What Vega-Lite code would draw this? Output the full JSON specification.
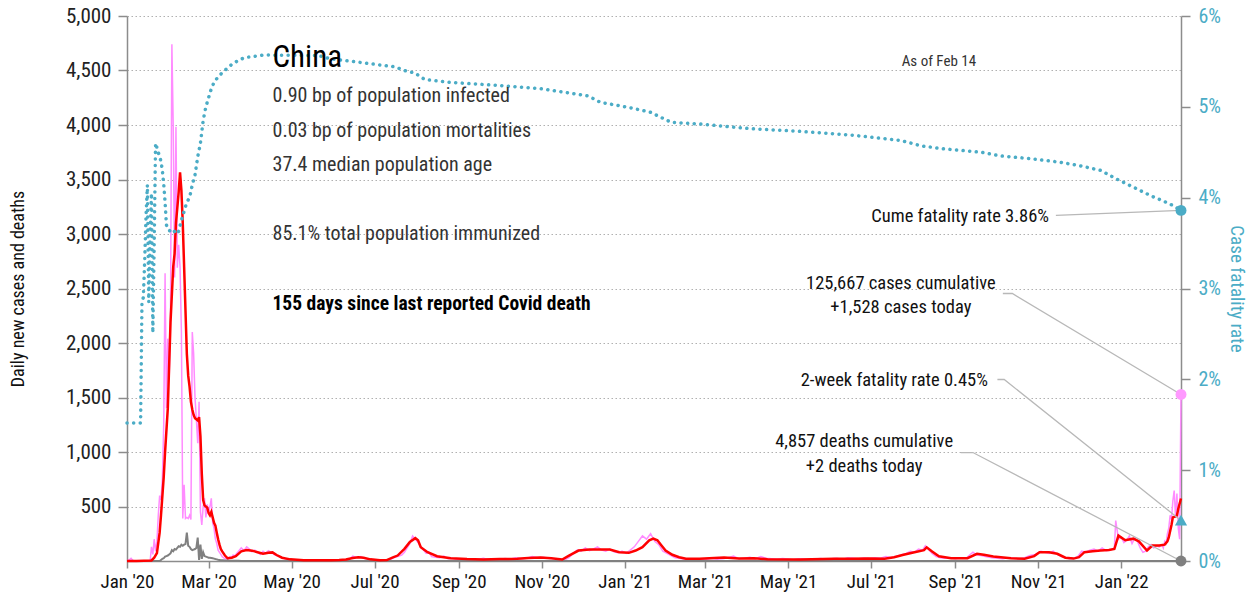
{
"$schema": "https://vega.github.io/schema/vega-lite/v6.json",
"width": 1054, "height": 545,
"autosize": {"type": "none"},
"padding": {"left": 127, "top": 16, "right": 74, "bottom": 41},
"config": {
 "font": "Roboto Condensed, DejaVu Sans Condensed, Roboto, sans-serif",
 "view": {"stroke": null},
 "axis": {"labelFont": "Roboto Condensed, DejaVu Sans Condensed, Roboto, sans-serif", "titleFont": "Roboto Condensed, DejaVu Sans Condensed, Roboto, sans-serif", "domainColor": "#8c8c8c", "domainWidth": 1.5, "tickColor": "#8c8c8c", "tickWidth": 1.5, "labelFontSize": 19, "titleFontSize": 19, "titleFontWeight": "normal"}
},
"datasets": {
 "daily": [
  {"d":"2020-01-01","c":0,"k":0},{"d":"2020-01-03","c":15,"k":0},{"d":"2020-01-04","c":25,"k":0},{"d":"2020-01-05","c":10,"k":0},{"d":"2020-01-06","c":0,"k":0},{"d":"2020-01-18","c":0,"k":0},
  {"d":"2020-01-19","c":130,"k":0},{"d":"2020-01-20","c":60,"k":0},{"d":"2020-01-21","c":200,"k":0},{"d":"2020-01-22","c":90,"k":0},{"d":"2020-01-23","c":180,"k":0},{"d":"2020-01-24","c":420,"k":0},{"d":"2020-01-25","c":600,"k":0},{"d":"2020-01-26","c":560,"k":10},{"d":"2020-01-27","c":750,"k":20},{"d":"2020-01-28","c":1250,"k":25},{"d":"2020-01-29","c":2640,"k":40},{"d":"2020-01-30","c":1400,"k":45},{"d":"2020-01-31","c":2040,"k":50},
  {"d":"2020-02-01","c":1665,"k":60},{"d":"2020-02-02","c":2300,"k":70},{"d":"2020-02-03","c":4740,"k":100},{"d":"2020-02-04","c":3980,"k":90},{"d":"2020-02-05","c":2600,"k":110},{"d":"2020-02-06","c":3985,"k":105},{"d":"2020-02-07","c":2690,"k":120},{"d":"2020-02-08","c":2900,"k":135},{"d":"2020-02-09","c":2700,"k":130},{"d":"2020-02-10","c":2100,"k":150},{"d":"2020-02-11","c":390,"k":140},{"d":"2020-02-12","c":700,"k":150},{"d":"2020-02-13","c":390,"k":155},{"d":"2020-02-14","c":400,"k":260},{"d":"2020-02-15","c":390,"k":140},{"d":"2020-02-16","c":420,"k":130},{"d":"2020-02-17","c":380,"k":110},{"d":"2020-02-18","c":2100,"k":100},{"d":"2020-02-19","c":1900,"k":105},{"d":"2020-02-20","c":1500,"k":110},{"d":"2020-02-21","c":1300,"k":120},{"d":"2020-02-22","c":1080,"k":215},{"d":"2020-02-23","c":1460,"k":10},{"d":"2020-02-24","c":450,"k":150},{"d":"2020-02-25","c":330,"k":20},{"d":"2020-02-26","c":500,"k":80},{"d":"2020-02-27","c":575,"k":45},{"d":"2020-02-28","c":400,"k":40},{"d":"2020-02-29","c":520,"k":35},
  {"d":"2020-03-01","c":450,"k":30},{"d":"2020-03-02","c":500,"k":30},{"d":"2020-03-03","c":575,"k":28},{"d":"2020-03-04","c":350,"k":25},{"d":"2020-03-05","c":300,"k":22},{"d":"2020-03-06","c":200,"k":18},{"d":"2020-03-07","c":160,"k":15},{"d":"2020-03-08","c":100,"k":12},{"d":"2020-03-09","c":80,"k":10},{"d":"2020-03-10","c":60,"k":8},{"d":"2020-03-11","c":40,"k":8},{"d":"2020-03-12","c":30,"k":6},{"d":"2020-03-13","c":20,"k":5},{"d":"2020-03-14","c":25,"k":5},{"d":"2020-03-15","c":15,"k":4},{"d":"2020-03-16","c":30,"k":3},{"d":"2020-03-17","c":40,"k":3},{"d":"2020-03-18","c":35,"k":3},{"d":"2020-03-19","c":55,"k":2},{"d":"2020-03-20","c":45,"k":2},{"d":"2020-03-21","c":60,"k":2},{"d":"2020-03-23","c":90,"k":2},{"d":"2020-03-25","c":120,"k":1},{"d":"2020-03-27","c":95,"k":1},{"d":"2020-03-29","c":130,"k":1},{"d":"2020-03-31","c":110,"k":1},
  {"d":"2020-04-02","c":85,"k":1},{"d":"2020-04-04","c":100,"k":1},{"d":"2020-04-06","c":80,"k":1},{"d":"2020-04-08","c":60,"k":0},{"d":"2020-04-10","c":90,"k":0},{"d":"2020-04-12","c":70,"k":0},{"d":"2020-04-14","c":95,"k":0},{"d":"2020-04-16","c":80,"k":0},{"d":"2020-04-18","c":60,"k":0},{"d":"2020-04-20","c":50,"k":0},{"d":"2020-04-22","c":40,"k":0},{"d":"2020-04-25","c":25,"k":0},{"d":"2020-04-28","c":15,"k":0},
  {"d":"2020-05-01","c":12,"k":0},{"d":"2020-05-05","c":8,"k":0},{"d":"2020-05-09","c":12,"k":0},{"d":"2020-05-13","c":5,"k":0},{"d":"2020-05-17","c":10,"k":0},{"d":"2020-05-21","c":6,"k":0},{"d":"2020-05-25","c":9,"k":0},{"d":"2020-05-29","c":4,"k":0},
  {"d":"2020-06-02","c":7,"k":0},{"d":"2020-06-06","c":10,"k":0},{"d":"2020-06-10","c":8,"k":0},{"d":"2020-06-13","c":20,"k":0},{"d":"2020-06-15","c":45,"k":0},{"d":"2020-06-18","c":30,"k":0},{"d":"2020-06-21","c":40,"k":0},{"d":"2020-06-24","c":22,"k":0},{"d":"2020-06-27","c":15,"k":0},{"d":"2020-06-30","c":12,"k":0},
  {"d":"2020-07-03","c":6,"k":0},{"d":"2020-07-06","c":8,"k":0},{"d":"2020-07-09","c":5,"k":0},{"d":"2020-07-12","c":10,"k":0},{"d":"2020-07-15","c":30,"k":0},{"d":"2020-07-18","c":40,"k":0},{"d":"2020-07-21","c":55,"k":0},{"d":"2020-07-23","c":80,"k":0},{"d":"2020-07-25","c":120,"k":0},{"d":"2020-07-27","c":160,"k":0},{"d":"2020-07-29","c":230,"k":0},{"d":"2020-07-31","c":200,"k":0},
  {"d":"2020-08-02","c":170,"k":0},{"d":"2020-08-04","c":130,"k":0},{"d":"2020-08-06","c":100,"k":0},{"d":"2020-08-08","c":70,"k":0},{"d":"2020-08-10","c":80,"k":0},{"d":"2020-08-12","c":40,"k":0},{"d":"2020-08-15","c":35,"k":0},{"d":"2020-08-18","c":30,"k":0},{"d":"2020-08-21","c":45,"k":0},{"d":"2020-08-24","c":20,"k":0},{"d":"2020-08-27","c":25,"k":0},{"d":"2020-08-30","c":15,"k":0},
  {"d":"2020-09-03","c":20,"k":0},{"d":"2020-09-07","c":12,"k":0},{"d":"2020-09-11","c":18,"k":0},{"d":"2020-09-15","c":14,"k":0},{"d":"2020-09-19","c":25,"k":0},{"d":"2020-09-23","c":15,"k":0},{"d":"2020-09-27","c":20,"k":0},
  {"d":"2020-10-01","c":15,"k":0},{"d":"2020-10-05","c":22,"k":0},{"d":"2020-10-09","c":18,"k":0},{"d":"2020-10-13","c":30,"k":0},{"d":"2020-10-17","c":20,"k":0},{"d":"2020-10-21","c":25,"k":0},{"d":"2020-10-25","c":40,"k":0},{"d":"2020-10-29","c":30,"k":0},
  {"d":"2020-11-02","c":35,"k":0},{"d":"2020-11-06","c":25,"k":0},{"d":"2020-11-10","c":20,"k":0},{"d":"2020-11-14","c":15,"k":0},{"d":"2020-11-18","c":12,"k":0},{"d":"2020-11-21","c":30,"k":0},{"d":"2020-11-24","c":70,"k":0},{"d":"2020-11-27","c":100,"k":0},{"d":"2020-11-30","c":90,"k":0},
  {"d":"2020-12-03","c":120,"k":0},{"d":"2020-12-06","c":95,"k":0},{"d":"2020-12-09","c":110,"k":0},{"d":"2020-12-12","c":130,"k":0},{"d":"2020-12-15","c":100,"k":0},{"d":"2020-12-18","c":90,"k":0},{"d":"2020-12-21","c":110,"k":0},{"d":"2020-12-24","c":85,"k":0},{"d":"2020-12-27","c":75,"k":0},{"d":"2020-12-30","c":90,"k":0},
  {"d":"2021-01-02","c":70,"k":0},{"d":"2021-01-05","c":100,"k":0},{"d":"2021-01-08","c":130,"k":0},{"d":"2021-01-11","c":180,"k":0},{"d":"2021-01-14","c":230,"k":0},{"d":"2021-01-17","c":200,"k":0},{"d":"2021-01-20","c":250,"k":0},{"d":"2021-01-23","c":180,"k":0},{"d":"2021-01-26","c":150,"k":0},{"d":"2021-01-29","c":90,"k":0},
  {"d":"2021-02-01","c":70,"k":0},{"d":"2021-02-04","c":50,"k":0},{"d":"2021-02-07","c":30,"k":0},{"d":"2021-02-10","c":25,"k":0},{"d":"2021-02-14","c":15,"k":0},{"d":"2021-02-18","c":20,"k":0},{"d":"2021-02-22","c":12,"k":0},{"d":"2021-02-26","c":18,"k":0},
  {"d":"2021-03-02","c":15,"k":0},{"d":"2021-03-06","c":25,"k":0},{"d":"2021-03-10","c":15,"k":0},{"d":"2021-03-14","c":20,"k":0},{"d":"2021-03-18","c":30,"k":0},{"d":"2021-03-22","c":45,"k":0},{"d":"2021-03-26","c":20,"k":0},{"d":"2021-03-30","c":25,"k":0},
  {"d":"2021-04-03","c":35,"k":0},{"d":"2021-04-07","c":20,"k":0},{"d":"2021-04-11","c":40,"k":0},{"d":"2021-04-15","c":25,"k":0},{"d":"2021-04-19","c":20,"k":0},{"d":"2021-04-23","c":15,"k":0},{"d":"2021-04-27","c":22,"k":0},
  {"d":"2021-05-01","c":18,"k":0},{"d":"2021-05-05","c":12,"k":0},{"d":"2021-05-09","c":20,"k":0},{"d":"2021-05-13","c":15,"k":0},{"d":"2021-05-17","c":10,"k":0},{"d":"2021-05-21","c":18,"k":0},{"d":"2021-05-25","c":22,"k":0},{"d":"2021-05-29","c":15,"k":0},
  {"d":"2021-06-02","c":20,"k":0},{"d":"2021-06-06","c":25,"k":0},{"d":"2021-06-10","c":15,"k":0},{"d":"2021-06-14","c":30,"k":0},{"d":"2021-06-18","c":25,"k":0},{"d":"2021-06-22","c":20,"k":0},{"d":"2021-06-26","c":28,"k":0},{"d":"2021-06-30","c":22,"k":0},
  {"d":"2021-07-04","c":30,"k":0},{"d":"2021-07-08","c":25,"k":0},{"d":"2021-07-12","c":40,"k":0},{"d":"2021-07-16","c":30,"k":0},{"d":"2021-07-20","c":45,"k":0},{"d":"2021-07-24","c":60,"k":0},{"d":"2021-07-27","c":70,"k":0},{"d":"2021-07-30","c":90,"k":0},
  {"d":"2021-08-02","c":80,"k":0},{"d":"2021-08-05","c":110,"k":0},{"d":"2021-08-08","c":100,"k":0},{"d":"2021-08-10","c":140,"k":0},{"d":"2021-08-12","c":110,"k":0},{"d":"2021-08-15","c":70,"k":0},{"d":"2021-08-18","c":40,"k":0},{"d":"2021-08-21","c":30,"k":0},{"d":"2021-08-24","c":25,"k":0},{"d":"2021-08-28","c":30,"k":0},
  {"d":"2021-09-01","c":20,"k":0},{"d":"2021-09-05","c":30,"k":0},{"d":"2021-09-09","c":25,"k":0},{"d":"2021-09-12","c":60,"k":0},{"d":"2021-09-14","c":80,"k":0},{"d":"2021-09-17","c":55,"k":0},{"d":"2021-09-20","c":50,"k":0},{"d":"2021-09-24","c":40,"k":0},{"d":"2021-09-28","c":30,"k":0},
  {"d":"2021-10-02","c":25,"k":0},{"d":"2021-10-06","c":20,"k":0},{"d":"2021-10-10","c":30,"k":0},{"d":"2021-10-14","c":25,"k":0},{"d":"2021-10-18","c":20,"k":0},{"d":"2021-10-22","c":30,"k":0},{"d":"2021-10-26","c":50,"k":0},{"d":"2021-10-30","c":60,"k":0},
  {"d":"2021-11-03","c":90,"k":0},{"d":"2021-11-06","c":80,"k":0},{"d":"2021-11-09","c":70,"k":0},{"d":"2021-11-12","c":90,"k":0},{"d":"2021-11-15","c":60,"k":0},{"d":"2021-11-18","c":40,"k":0},{"d":"2021-11-21","c":30,"k":0},{"d":"2021-11-24","c":20,"k":0},{"d":"2021-11-27","c":25,"k":0},{"d":"2021-11-30","c":40,"k":0},
  {"d":"2021-12-03","c":90,"k":0},{"d":"2021-12-06","c":80,"k":0},{"d":"2021-12-09","c":100,"k":0},{"d":"2021-12-12","c":110,"k":0},{"d":"2021-12-15","c":90,"k":0},{"d":"2021-12-18","c":120,"k":0},{"d":"2021-12-21","c":95,"k":0},{"d":"2021-12-24","c":100,"k":0},{"d":"2021-12-27","c":120,"k":0},{"d":"2021-12-28","c":371,"k":0},{"d":"2021-12-30","c":200,"k":0},
  {"d":"2022-01-01","c":220,"k":0},{"d":"2022-01-03","c":170,"k":0},{"d":"2022-01-05","c":190,"k":0},{"d":"2022-01-07","c":230,"k":0},{"d":"2022-01-09","c":160,"k":0},{"d":"2022-01-11","c":210,"k":0},{"d":"2022-01-13","c":180,"k":0},{"d":"2022-01-15","c":120,"k":0},{"d":"2022-01-17","c":80,"k":0},{"d":"2022-01-19","c":90,"k":0},{"d":"2022-01-21","c":130,"k":0},{"d":"2022-01-23","c":150,"k":0},{"d":"2022-01-25","c":120,"k":0},{"d":"2022-01-27","c":140,"k":0},{"d":"2022-01-29","c":130,"k":0},{"d":"2022-01-31","c":150,"k":0},
  {"d":"2022-02-01","c":120,"k":0},{"d":"2022-02-02","c":180,"k":0},{"d":"2022-02-03","c":160,"k":0},{"d":"2022-02-04","c":250,"k":0},{"d":"2022-02-05","c":300,"k":0},{"d":"2022-02-06","c":420,"k":0},{"d":"2022-02-07","c":380,"k":0},{"d":"2022-02-08","c":550,"k":0},{"d":"2022-02-09","c":647,"k":0},{"d":"2022-02-10","c":400,"k":0},{"d":"2022-02-11","c":620,"k":0},{"d":"2022-02-12","c":300,"k":0},{"d":"2022-02-13","c":200,"k":0},{"d":"2022-02-14","c":1528,"k":2}
 ],
 "avg": [
  {"d":"2020-01-01","a":0},{"d":"2020-01-08","a":0},{"d":"2020-01-19","a":5},{"d":"2020-01-21","a":30},{"d":"2020-01-23","a":73},{"d":"2020-01-25","a":260},{"d":"2020-01-26","a":420},{"d":"2020-01-28","a":770},{"d":"2020-01-29","a":1000},{"d":"2020-01-31","a":1400},
  {"d":"2020-02-02","a":2190},{"d":"2020-02-04","a":2700},{"d":"2020-02-05","a":2820},{"d":"2020-02-06","a":3100},{"d":"2020-02-08","a":3385},{"d":"2020-02-09","a":3565},{"d":"2020-02-10","a":3400},{"d":"2020-02-11","a":3100},{"d":"2020-02-12","a":2700},{"d":"2020-02-13","a":2300},{"d":"2020-02-14","a":1900},{"d":"2020-02-15","a":1700},{"d":"2020-02-16","a":1600},{"d":"2020-02-17","a":1460},{"d":"2020-02-18","a":1390},{"d":"2020-02-19","a":1340},{"d":"2020-02-20","a":1310},{"d":"2020-02-21","a":1300},{"d":"2020-02-22","a":1290},{"d":"2020-02-23","a":1320},{"d":"2020-02-24","a":1145},{"d":"2020-02-25","a":800},{"d":"2020-02-26","a":560},{"d":"2020-02-27","a":510},{"d":"2020-02-28","a":500},{"d":"2020-02-29","a":490},
  {"d":"2020-03-01","a":440},{"d":"2020-03-02","a":420},{"d":"2020-03-03","a":450},{"d":"2020-03-04","a":400},{"d":"2020-03-05","a":350},{"d":"2020-03-06","a":325},{"d":"2020-03-07","a":260},{"d":"2020-03-08","a":200},{"d":"2020-03-09","a":150},{"d":"2020-03-10","a":110},{"d":"2020-03-11","a":88},{"d":"2020-03-13","a":50},{"d":"2020-03-15","a":25},{"d":"2020-03-18","a":30},{"d":"2020-03-21","a":45},{"d":"2020-03-25","a":88},{"d":"2020-03-29","a":100},
  {"d":"2020-04-02","a":95},{"d":"2020-04-06","a":80},{"d":"2020-04-10","a":66},{"d":"2020-04-14","a":75},{"d":"2020-04-17","a":79},{"d":"2020-04-20","a":55},{"d":"2020-04-24","a":30},{"d":"2020-04-30","a":15},
  {"d":"2020-05-10","a":8},{"d":"2020-05-20","a":8},{"d":"2020-05-30","a":8},{"d":"2020-06-05","a":10},{"d":"2020-06-10","a":14},{"d":"2020-06-15","a":28},{"d":"2020-06-19","a":35},{"d":"2020-06-23","a":30},{"d":"2020-06-28","a":15},
  {"d":"2020-07-05","a":6},{"d":"2020-07-10","a":8},{"d":"2020-07-15","a":35},{"d":"2020-07-18","a":50},{"d":"2020-07-23","a":112},{"d":"2020-07-27","a":175},{"d":"2020-07-31","a":210},{"d":"2020-08-02","a":190},{"d":"2020-08-04","a":127},{"d":"2020-08-09","a":81},{"d":"2020-08-16","a":44},{"d":"2020-08-26","a":26},
  {"d":"2020-09-07","a":18},{"d":"2020-09-19","a":14},{"d":"2020-10-01","a":18},{"d":"2020-10-14","a":20},{"d":"2020-10-22","a":28},{"d":"2020-10-31","a":32},{"d":"2020-11-08","a":25},{"d":"2020-11-16","a":14},{"d":"2020-11-21","a":50},{"d":"2020-11-28","a":96},{"d":"2020-12-06","a":105},{"d":"2020-12-13","a":105},{"d":"2020-12-21","a":105},{"d":"2020-12-28","a":81},
  {"d":"2021-01-04","a":75},{"d":"2021-01-09","a":96},{"d":"2021-01-14","a":127},{"d":"2021-01-19","a":190},{"d":"2021-01-22","a":206},{"d":"2021-01-25","a":190},{"d":"2021-01-28","a":142},{"d":"2021-01-31","a":96},{"d":"2021-02-05","a":57},{"d":"2021-02-10","a":35},{"d":"2021-02-15","a":20},{"d":"2021-02-25","a":20},
  {"d":"2021-03-15","a":32},{"d":"2021-03-26","a":22},{"d":"2021-04-06","a":26},{"d":"2021-04-16","a":17},{"d":"2021-05-10","a":14},{"d":"2021-06-04","a":20},{"d":"2021-06-16","a":20},{"d":"2021-06-29","a":22},{"d":"2021-07-11","a":20},{"d":"2021-07-18","a":35},{"d":"2021-07-25","a":57},
  {"d":"2021-08-02","a":81},{"d":"2021-08-09","a":100},{"d":"2021-08-11","a":125},{"d":"2021-08-15","a":87},{"d":"2021-08-20","a":44},{"d":"2021-08-29","a":26},{"d":"2021-09-10","a":26},{"d":"2021-09-17","a":66},{"d":"2021-09-22","a":57},{"d":"2021-09-29","a":41},
  {"d":"2021-10-12","a":26},{"d":"2021-10-22","a":20},{"d":"2021-10-29","a":45},{"d":"2021-11-02","a":81},{"d":"2021-11-09","a":81},{"d":"2021-11-15","a":66},{"d":"2021-11-21","a":30},{"d":"2021-11-27","a":22},
  {"d":"2021-12-01","a":35},{"d":"2021-12-05","a":81},{"d":"2021-12-11","a":90},{"d":"2021-12-17","a":96},{"d":"2021-12-23","a":100},{"d":"2021-12-27","a":110},{"d":"2021-12-30","a":233},
  {"d":"2022-01-04","a":190},{"d":"2022-01-10","a":205},{"d":"2022-01-14","a":180},{"d":"2022-01-20","a":96},{"d":"2022-01-24","a":142},{"d":"2022-01-29","a":142},{"d":"2022-02-02","a":150},{"d":"2022-02-04","a":180},{"d":"2022-02-05","a":216},{"d":"2022-02-07","a":330},{"d":"2022-02-08","a":400},{"d":"2022-02-10","a":410},{"d":"2022-02-11","a":417},{"d":"2022-02-12","a":480},{"d":"2022-02-14","a":573}
 ],
 "cfr": [
  {"d":"2020-01-01","f":1.52},{"d":"2020-01-11","f":1.52},{"d":"2020-01-12","f":2.85},{"d":"2020-01-13","f":2.9},{"d":"2020-01-14","f":3.3},{"d":"2020-01-15","f":3.8},{"d":"2020-01-16","f":4.14},{"d":"2020-01-17","f":2.85},{"d":"2020-01-18","f":3.6},{"d":"2020-01-19","f":4.05},{"d":"2020-01-20","f":2.51},{"d":"2020-01-21","f":3.5},{"d":"2020-01-22","f":4.6},{"d":"2020-01-23","f":4.55},{"d":"2020-01-24","f":4.5},{"d":"2020-01-25","f":4.45},{"d":"2020-01-26","f":4.4},{"d":"2020-01-27","f":4.3},{"d":"2020-01-28","f":4.15},{"d":"2020-01-29","f":3.95},{"d":"2020-01-30","f":3.7},{"d":"2020-01-31","f":3.65},
  {"d":"2020-02-02","f":3.63},{"d":"2020-02-04","f":3.65},{"d":"2020-02-06","f":3.6},{"d":"2020-02-08","f":3.63},{"d":"2020-02-10","f":3.75},{"d":"2020-02-12","f":3.85},{"d":"2020-02-14","f":3.95},{"d":"2020-02-16","f":4.0},{"d":"2020-02-18","f":4.14},{"d":"2020-02-20","f":4.25},{"d":"2020-02-22","f":4.45},{"d":"2020-02-24","f":4.6},{"d":"2020-02-26","f":4.85},{"d":"2020-02-28","f":5.0},
  {"d":"2020-03-01","f":5.1},{"d":"2020-03-03","f":5.2},{"d":"2020-03-05","f":5.27},{"d":"2020-03-08","f":5.33},{"d":"2020-03-12","f":5.39},{"d":"2020-03-19","f":5.48},{"d":"2020-03-27","f":5.54},{"d":"2020-04-10","f":5.57},{"d":"2020-05-21","f":5.565},{"d":"2020-05-29","f":5.53},{"d":"2020-06-20","f":5.49},{"d":"2020-07-16","f":5.44},{"d":"2020-07-23","f":5.40},{"d":"2020-07-31","f":5.37},{"d":"2020-08-07","f":5.30},{"d":"2020-08-25","f":5.27},{"d":"2020-10-01","f":5.235},{"d":"2020-10-31","f":5.20},{"d":"2020-11-18","f":5.16},{"d":"2020-12-05","f":5.12},{"d":"2020-12-14","f":5.05},
  {"d":"2021-01-05","f":4.99},{"d":"2021-01-20","f":4.94},{"d":"2021-02-04","f":4.83},{"d":"2021-02-26","f":4.81},{"d":"2021-04-03","f":4.76},{"d":"2021-05-10","f":4.73},{"d":"2021-06-16","f":4.69},{"d":"2021-07-23","f":4.63},{"d":"2021-08-07","f":4.57},{"d":"2021-08-22","f":4.54},{"d":"2021-09-20","f":4.50},{"d":"2021-10-04","f":4.46},{"d":"2021-10-26","f":4.43},{"d":"2021-11-17","f":4.39},{"d":"2021-12-02","f":4.35},{"d":"2021-12-17","f":4.30},{"d":"2021-12-28","f":4.21},
  {"d":"2022-01-08","f":4.13},{"d":"2022-01-23","f":4.02},{"d":"2022-02-06","f":3.93},{"d":"2022-02-14","f":3.86}
 ],
 "ends": [{"d":"2022-02-14","c":1528,"k":0,"f":3.86,"w":0.45}],
 "leaders": [
  {"id":"cume","d":"2021-11-14","v":3170},{"id":"cume","d":"2022-02-14","v":3216},
  {"id":"cases","d":"2021-10-06","v":2454},{"id":"cases","d":"2021-10-13","v":2454},{"id":"cases","d":"2022-02-14","v":1528},
  {"id":"week","d":"2021-10-02","v":1665},{"id":"week","d":"2021-10-07","v":1665},{"id":"week","d":"2022-02-14","v":372},
  {"id":"deaths","d":"2021-09-05","v":995},{"id":"deaths","d":"2021-09-14","v":995},{"id":"deaths","d":"2022-02-14","v":0}
 ],
 "notes": [
  {"g":"title","d":"2020-04-17","v":4530,"t":"China"},
  {"g":"stat","d":"2020-04-17","v":4209,"t":"0.90 bp of population infected"},
  {"g":"stat","d":"2020-04-17","v":3894,"t":"0.03 bp of population mortalities"},
  {"g":"stat","d":"2020-04-17","v":3576,"t":"37.4 median population age"},
  {"g":"stat","d":"2020-04-17","v":2947,"t":"85.1% total population immunized"},
  {"g":"bold","d":"2020-04-17","v":2305,"t":"155 days since last reported Covid death"},
  {"g":"small","d":"2021-08-20","v":4537,"t":"As of Feb 14"},
  {"g":"right","d":"2021-11-09","v":3106,"t":"Cume fatality rate 3.86%"},
  {"g":"right","d":"2021-09-25","v":1601,"t":"2-week fatality rate 0.45%"},
  {"g":"center","d":"2021-07-23","v":2491,"t":"125,667 cases cumulative"},
  {"g":"center","d":"2021-07-23","v":2271,"t":"+1,528 cases today"},
  {"g":"center","d":"2021-06-26","v":1044,"t":"4,857 deaths cumulative"},
  {"g":"center","d":"2021-06-26","v":815,"t":"+2 deaths today"}
 ]
},
"layer": [
  {"data": {"name": "daily"}, "mark": {"type": "line", "color": "#ff8cff", "strokeWidth": 1.5},
   "encoding": {
    "x": {"field": "d", "type": "temporal", "scale": {"type": "utc", "domain": [{"year": 2020, "month": 1, "date": 1, "utc": true}, {"year": 2022, "month": 2, "date": 14, "utc": true}]},
      "axis": {"title": null, "format": "%b '%y", "labelOverlap": false, "labelFlush": false, "values": [{"year":2020,"month":1,"date":1,"utc":true},{"year":2020,"month":3,"date":1,"utc":true},{"year":2020,"month":5,"date":1,"utc":true},{"year":2020,"month":7,"date":1,"utc":true},{"year":2020,"month":9,"date":1,"utc":true},{"year":2020,"month":11,"date":1,"utc":true},{"year":2021,"month":1,"date":1,"utc":true},{"year":2021,"month":3,"date":1,"utc":true},{"year":2021,"month":5,"date":1,"utc":true},{"year":2021,"month":7,"date":1,"utc":true},{"year":2021,"month":9,"date":1,"utc":true},{"year":2021,"month":11,"date":1,"utc":true},{"year":2022,"month":1,"date":1,"utc":true}],
        "tickSize": 7, "labelPadding": 4, "labelColor": "#111", "grid": false, "labelFontSize": 19}},
    "y": {"field": "c", "type": "quantitative", "scale": {"domain": [0, 5000]},
      "axis": {"title": "Daily new cases and deaths", "orient": "left", "values": [500,1000,1500,2000,2500,3000,3500,4000,4500,5000], "format": ",d", "tickSize": 9, "labelPadding": 7, "labelColor": "#222", "titleColor": "#111", "titlePadding": 38, "titleFontSize": 18, "grid": true, "gridColor": "#b0b0b0", "gridDash": [1.5, 2.5], "gridWidth": 1, "labelFontSize": 21}}
   }},
  {"data": {"name": "daily"}, "mark": {"type": "line", "color": "#808080", "strokeWidth": 2},
   "encoding": {"x": {"field": "d", "type": "temporal"}, "y": {"field": "k", "type": "quantitative", "scale": {"domain": [0, 5000]}, "axis": null}}},
  {"data": {"name": "avg"}, "mark": {"type": "line", "color": "#ff0000", "strokeWidth": 2.5},
   "encoding": {"x": {"field": "d", "type": "temporal"}, "y": {"field": "a", "type": "quantitative", "scale": {"domain": [0, 5000]}, "axis": null}}},
  {"data": {"name": "cfr"}, "mark": {"type": "line", "color": "#4bacc6", "strokeWidth": 3.5, "strokeCap": "round", "strokeDash": [0.1, 6.5]},
   "encoding": {"x": {"field": "d", "type": "temporal"},
    "y": {"field": "f", "type": "quantitative", "scale": {"domain": [0, 6]},
      "axis": {"title": "Case fatality rate", "orient": "right", "values": [0,1,2,3,4,5,6], "labelExpr": "datum.value + '%'", "tickSize": 9, "labelPadding": 8, "labelColor": "#4bacc6", "titleColor": "#4bacc6", "titlePadding": 6, "grid": false, "labelFontSize": 20, "titleFontSize": 19}}}},
  {"data": {"name": "leaders"}, "mark": {"type": "line", "color": "#b8b8b8", "strokeWidth": 1.3},
   "encoding": {"x": {"field": "d", "type": "temporal"}, "y": {"field": "v", "type": "quantitative", "scale": {"domain": [0, 5000]}, "axis": null}, "detail": {"field": "id"}}},
  {"data": {"name": "ends"}, "mark": {"type": "point", "shape": "circle", "filled": true, "color": "#ff99ff", "size": 120, "opacity": 1},
   "encoding": {"x": {"field": "d", "type": "temporal"}, "y": {"field": "c", "type": "quantitative", "scale": {"domain": [0, 5000]}, "axis": null}}},
  {"data": {"name": "ends"}, "mark": {"type": "point", "shape": "circle", "filled": true, "color": "#808080", "size": 120, "opacity": 1},
   "encoding": {"x": {"field": "d", "type": "temporal"}, "y": {"field": "k", "type": "quantitative", "scale": {"domain": [0, 5000]}, "axis": null}}},
  {"data": {"name": "ends"}, "mark": {"type": "point", "shape": "circle", "filled": true, "color": "#4bacc6", "size": 120, "opacity": 1},
   "encoding": {"x": {"field": "d", "type": "temporal"}, "y": {"field": "f", "type": "quantitative", "scale": {"domain": [0, 6]}, "axis": null}}},
  {"data": {"name": "ends"}, "mark": {"type": "point", "shape": "triangle-up", "filled": true, "color": "#4bacc6", "size": 150, "opacity": 1},
   "encoding": {"x": {"field": "d", "type": "temporal"}, "y": {"field": "w", "type": "quantitative", "scale": {"domain": [0, 6]}, "axis": null}}},
  {"data": {"name": "notes"}, "transform": [{"filter": "datum.g === 'title'"}], "mark": {"type": "text", "align": "left", "baseline": "alphabetic", "fontSize": 31, "color": "#000"},
   "encoding": {"x": {"field": "d", "type": "temporal"}, "y": {"field": "v", "type": "quantitative", "scale": {"domain": [0, 5000]}, "axis": null}, "text": {"field": "t"}}},
  {"data": {"name": "notes"}, "transform": [{"filter": "datum.g === 'stat'"}], "mark": {"type": "text", "align": "left", "baseline": "alphabetic", "fontSize": 20, "color": "#333"},
   "encoding": {"x": {"field": "d", "type": "temporal"}, "y": {"field": "v", "type": "quantitative", "scale": {"domain": [0, 5000]}, "axis": null}, "text": {"field": "t"}}},
  {"data": {"name": "notes"}, "transform": [{"filter": "datum.g === 'bold'"}], "mark": {"type": "text", "align": "left", "baseline": "alphabetic", "fontSize": 19.5, "fontWeight": "bold", "color": "#000"},
   "encoding": {"x": {"field": "d", "type": "temporal"}, "y": {"field": "v", "type": "quantitative", "scale": {"domain": [0, 5000]}, "axis": null}, "text": {"field": "t"}}},
  {"data": {"name": "notes"}, "transform": [{"filter": "datum.g === 'small'"}], "mark": {"type": "text", "align": "center", "baseline": "alphabetic", "fontSize": 15, "color": "#333"},
   "encoding": {"x": {"field": "d", "type": "temporal"}, "y": {"field": "v", "type": "quantitative", "scale": {"domain": [0, 5000]}, "axis": null}, "text": {"field": "t"}}},
  {"data": {"name": "notes"}, "transform": [{"filter": "datum.g === 'right'"}], "mark": {"type": "text", "align": "right", "baseline": "alphabetic", "fontSize": 18.5, "color": "#111"},
   "encoding": {"x": {"field": "d", "type": "temporal"}, "y": {"field": "v", "type": "quantitative", "scale": {"domain": [0, 5000]}, "axis": null}, "text": {"field": "t"}}},
  {"data": {"name": "notes"}, "transform": [{"filter": "datum.g === 'center'"}], "mark": {"type": "text", "align": "center", "baseline": "alphabetic", "fontSize": 18.5, "color": "#111"},
   "encoding": {"x": {"field": "d", "type": "temporal"}, "y": {"field": "v", "type": "quantitative", "scale": {"domain": [0, 5000]}, "axis": null}, "text": {"field": "t"}}}
],
"resolve": {"scale": {"y": "independent"}}
}
